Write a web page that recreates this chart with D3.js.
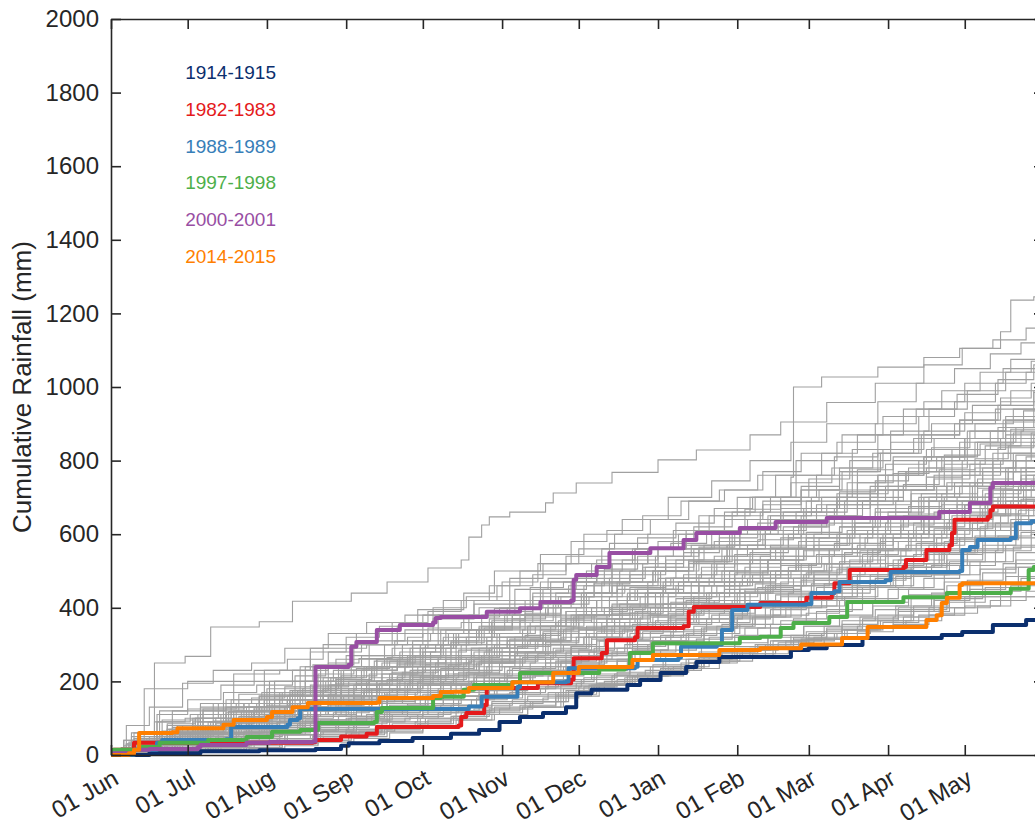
<!DOCTYPE html>
<html>
<head>
<meta charset="utf-8">
<script src="https://cdn.jsdelivr.net/npm/d3@7"></script>
<style>
  body { margin: 0; background: #fff; }
  svg { display: block; }
  text { font-family: "Liberation Sans", Arial, Helvetica, sans-serif; }
</style>
</head>
<body>
<svg id="chart" width="1035" height="827"></svg>
<script>
// Season runs 1 June to 31 May; points are [day of season, cumulative mm]
const seasonStart = new Date(Date.UTC(2014, 5, 1));
const seasonEnd = new Date(Date.UTC(2015, 5, 1));
const seasonLength = 365;
const yTickValues = [0, 200, 400, 600, 800, 1000, 1200, 1400, 1600, 1800, 2000];

const highlightNames = ["1914-1915", "1982-1983", "1988-1989", "1997-1998", "2000-2001", "2014-2015"];
const highlightColors = ["#0b2f6e", "#e41a1c", "#377eb8", "#4daf4a", "#984ea3", "#ff7f00"];

const season1914 = [[0,0],[15,5],[35,10],[58,13],[80,16],[90,25],[93,32],[105,38],[118,46],[133,58],[144,68],[152,90],[160,103],[169,114],[178,130],[182,168],[188,177],[202,190],[207,204],[215,223],[225,239],[229,253],[238,266],[266,285],[273,290],[280,299],[294,318],[325,326],[333,334],[345,353],[358,367]];
const season1982 = [[0,0],[1,14],[9,33],[79,35],[80,41],[90,50],[100,58],[104,76],[136,80],[137,103],[139,114],[146,136],[147,182],[167,195],[180,205],[181,263],[192,277],[194,312],[205,320],[206,345],[224,350],[226,389],[228,402],[254,413],[272,427],[282,440],[283,467],[289,503],[310,511],[311,530],[319,557],[328,570],[329,603],[330,639],[343,647],[344,665],[345,675]];
const season1988 = [[0,0],[9,14],[18,33],[20,41],[45,43],[47,76],[69,82],[70,95],[73,100],[74,125],[140,132],[145,158],[159,185],[160,198],[178,200],[179,236],[205,240],[206,258],[222,265],[223,294],[237,300],[239,340],[243,394],[249,408],[272,410],[274,440],[283,445],[285,470],[303,475],[305,497],[332,500],[333,557],[336,565],[339,584],[352,590],[354,630],[360,635]];
const season1997 = [[0,0],[1,14],[12,22],[19,33],[38,41],[53,49],[63,63],[74,68],[81,87],[103,90],[104,117],[106,128],[126,155],[129,158],[138,177],[142,190],[157,198],[160,223],[191,232],[201,239],[203,277],[212,304],[246,318],[254,321],[262,345],[267,359],[281,375],[288,416],[310,429],[327,440],[352,452],[359,503],[361,511]];
const season2000 = [[0,0],[1,5],[9,14],[15,16],[34,22],[35,27],[53,33],[62,35],[79,37],[80,239],[93,245],[94,294],[96,307],[104,340],[113,353],[126,360],[127,372],[129,375],[147,389],[160,399],[168,416],[180,420],[181,476],[182,489],[190,511],[195,549],[211,562],[224,584],[229,603],[246,617],[260,633],[280,644],[324,660],[336,685],[344,726],[345,739]];
const season2014 = [[0,0],[7,5],[9,14],[11,60],[24,62],[26,73],[44,82],[48,95],[61,103],[63,117],[71,130],[77,141],[104,143],[105,155],[126,160],[129,171],[134,172],[140,182],[157,198],[173,223],[183,239],[204,258],[212,272],[238,285],[254,290],[270,300],[286,318],[296,348],[319,367],[323,380],[325,413],[327,427],[332,462],[333,467]];
const highlightSeasons = [season1914, season1982, season1988, season1997, season2000, season2014];

// All other seasons of the record, as flat day,mm pairs
const otherSeasons = [
  [0,0, 7,35, 17,250, 29,268, 39,348, 58,362, 71,418, 94,440, 108,470, 124,508, 137,530, 140,592, 145,625, 148,647, 156,660, 170,685, 173,712, 182,739, 196,768, 214,802, 229,829, 250,870, 262,905, 280,958, 299,1010, 318,1060, 333,1105, 348,1150, 352,1236, 361,1245],
  [0,5, 12,20, 25,60, 40,92, 55,120, 70,165, 88,210, 100,240, 118,300, 132,330, 150,390, 165,430, 180,470, 196,520, 210,560, 225,610, 240,660, 252,700, 266,755, 267,1000, 278,1027, 300,1054, 318,1080, 332,1105, 345,1128, 358,1160],
  [0,0, 10,30, 20,95, 35,140, 48,200, 60,230, 78,280, 92,320, 105,350, 120,395, 138,440, 150,500, 168,545, 185,600, 200,640, 218,700, 235,745, 250,800, 266,850, 280,900, 300,960, 315,1010, 330,1050, 344,1090, 356,1120],
  [0,10, 6,80, 15,130, 28,195, 40,230, 55,250, 68,290, 85,330, 100,360, 115,380, 130,420, 148,460, 160,500, 178,540, 195,575, 210,600, 230,650, 245,700, 260,760, 278,820, 292,870, 310,940, 325,990, 340,1040, 352,1075, 362,1100],
  [0,0, 12,20, 26,50, 40,80, 58,110, 74,140, 90,170, 104,200, 118,240, 136,270, 152,320, 168,360, 182,400, 198,450, 215,500, 230,560, 246,620, 262,700, 276,760, 290,830, 305,880, 320,940, 335,990, 350,1040, 360,1070],
  [0,0, 9,45, 22,70, 36,120, 50,165, 62,200, 79,245, 95,300, 110,330, 126,370, 142,410, 158,450, 171,480, 188,520, 204,560, 220,610, 234,650, 250,700, 268,760, 283,810, 300,870, 316,920, 330,960, 346,1010, 358,1040],
  [0,0, 5,25, 19,60, 33,100, 47,130, 61,180, 76,240, 92,270, 107,300, 122,330, 140,380, 156,420, 172,470, 190,530, 205,560, 222,600, 240,650, 255,690, 270,730, 285,780, 302,830, 318,880, 334,930, 348,970, 360,1010],
  [0,5, 11,30, 24,55, 39,90, 52,140, 66,170, 84,200, 98,230, 112,260, 129,300, 145,350, 160,380, 176,420, 192,470, 208,520, 224,570, 238,610, 254,660, 270,720, 286,770, 300,820, 316,870, 332,910, 347,950, 361,990],
  [0,0, 8,15, 20,40, 32,75, 45,110, 60,150, 73,175, 88,205, 102,240, 118,270, 133,310, 149,360, 165,400, 180,430, 196,470, 213,510, 228,560, 243,600, 258,650, 274,700, 290,760, 306,810, 322,860, 338,900, 353,940, 363,970],
  [0,0, 14,45, 27,70, 41,85, 56,130, 70,160, 86,190, 101,220, 115,250, 131,290, 147,320, 163,350, 178,390, 195,430, 210,470, 226,520, 241,570, 256,610, 272,660, 288,710, 304,760, 318,810, 334,860, 349,910, 362,950],
  [0,0, 18,110, 30,125, 52,140, 64,200, 90,215, 104,240, 121,300, 139,320, 150,345, 174,380, 186,440, 201,460, 219,480, 236,540, 249,570, 263,620, 280,680, 297,720, 311,770, 329,830, 344,880, 357,935],
  [0,0, 10,40, 22,70, 35,130, 47,150, 60,200, 74,240, 88,260, 101,310, 115,340, 128,380, 142,420, 156,480, 169,520, 183,560, 197,600, 211,640, 226,690, 240,720, 255,770, 270,820, 286,870, 302,920, 318,960, 334,1010, 349,1050, 362,1090],
  [0,0, 6,30, 18,90, 31,110, 44,170, 57,190, 71,230, 85,280, 98,300, 112,350, 126,400, 139,430, 153,470, 167,520, 180,580, 194,610, 208,650, 223,690, 238,720, 253,760, 268,800, 284,850, 299,900, 315,940, 331,980, 347,1020, 361,1060],
  [0,0, 13,20, 25,60, 38,75, 51,120, 64,160, 78,190, 91,230, 104,260, 118,310, 131,340, 145,380, 158,410, 172,450, 186,500, 200,530, 214,580, 228,620, 243,660, 258,700, 273,750, 289,800, 305,850, 321,900, 337,950, 352,990, 363,1030],
  [0,0, 9,25, 21,50, 34,90, 47,130, 60,150, 74,200, 87,230, 101,260, 114,300, 128,340, 141,360, 155,400, 169,450, 182,480, 196,520, 210,560, 225,600, 240,640, 255,680, 270,720, 285,770, 301,820, 317,870, 332,910, 348,960, 362,1000],
  [0,0, 8,60, 19,120, 30,150, 43,190, 56,230, 69,260, 83,300, 96,330, 110,360, 124,390, 137,420, 151,460, 165,490, 178,520, 192,560, 206,590, 221,630, 236,670, 251,700, 266,740, 282,780, 298,820, 314,860, 330,900, 346,940, 361,985],
  [0,0, 12,15, 24,40, 37,70, 50,100, 63,140, 76,160, 90,200, 103,240, 117,270, 130,310, 144,350, 157,380, 171,420, 185,460, 199,500, 213,540, 227,570, 242,610, 257,650, 272,690, 288,740, 303,790, 319,830, 335,880, 350,920, 363,960],
  [0,0, 7,10, 20,45, 33,60, 46,110, 59,130, 72,170, 86,210, 99,240, 113,280, 127,300, 140,340, 154,380, 168,410, 181,440, 195,480, 209,510, 224,550, 238,590, 253,630, 268,660, 284,710, 300,760, 316,800, 332,850, 347,890, 361,940],
  [0,0, 15,50, 28,80, 41,100, 54,140, 67,170, 80,210, 94,240, 107,270, 121,290, 134,330, 148,370, 162,400, 175,430, 189,470, 203,500, 217,530, 232,570, 246,600, 261,640, 276,680, 292,720, 308,770, 323,810, 339,850, 354,890, 364,925],
  [0,0, 10,35, 23,60, 36,80, 49,120, 62,140, 75,180, 89,200, 102,240, 116,270, 129,300, 143,340, 157,370, 170,400, 184,440, 198,470, 212,500, 226,530, 241,570, 256,600, 271,640, 287,690, 303,730, 319,780, 335,830, 350,870, 363,910],
  [0,0, 5,20, 17,40, 30,70, 43,90, 56,120, 69,150, 83,180, 96,200, 110,240, 123,260, 137,300, 151,330, 164,360, 178,390, 192,420, 206,450, 220,480, 235,520, 250,550, 265,590, 281,630, 297,680, 313,720, 329,770, 345,820, 360,875],
  [0,0, 14,30, 27,55, 40,70, 53,100, 66,130, 79,150, 93,180, 106,220, 120,240, 133,270, 147,310, 161,340, 174,360, 188,400, 202,430, 216,460, 230,490, 245,530, 260,560, 275,600, 291,640, 307,690, 323,730, 338,780, 353,820, 364,860],
  [0,0, 8,10, 21,30, 34,60, 47,80, 60,110, 73,140, 87,160, 100,200, 114,220, 127,250, 141,290, 155,320, 168,350, 182,380, 196,410, 210,440, 224,470, 239,500, 254,540, 269,580, 285,620, 301,670, 317,710, 333,760, 348,800, 362,845],
  [0,0, 11,20, 24,45, 37,60, 50,95, 63,120, 77,140, 90,175, 104,200, 117,230, 131,260, 144,290, 158,320, 172,350, 185,380, 199,410, 213,440, 227,470, 242,500, 257,530, 272,570, 288,610, 304,650, 320,700, 336,740, 351,780, 363,820],
  [0,0, 16,40, 29,60, 42,80, 55,100, 68,130, 82,150, 95,180, 109,200, 122,230, 136,260, 149,290, 163,310, 177,340, 190,370, 204,400, 218,430, 232,460, 247,490, 262,520, 277,560, 293,600, 309,640, 325,680, 341,720, 356,760, 364,790],
  [0,0, 9,20, 22,40, 35,55, 48,80, 61,110, 74,130, 88,150, 101,180, 115,200, 128,230, 142,260, 156,280, 169,310, 183,340, 197,370, 211,400, 225,420, 240,450, 255,480, 270,520, 286,560, 302,600, 318,640, 334,680, 349,720, 362,760],
  [0,0, 9,30, 21,42, 34,110, 46,118, 58,160, 70,175, 85,250, 97,262, 110,290, 124,345, 137,360, 150,398, 164,455, 177,470, 190,500, 205,560, 219,575, 233,610, 248,668, 262,690, 277,720, 292,775, 306,800, 321,835, 336,880, 350,905, 363,930],
  [0,0, 12,8, 25,20, 38,45, 52,60, 66,95, 80,110, 93,150, 107,170, 121,215, 134,240, 148,290, 161,310, 175,365, 188,390, 202,440, 216,470, 229,525, 243,560, 256,610, 270,640, 284,690, 297,730, 311,770, 325,810, 338,850, 352,885, 364,915],
  [0,0, 7,20, 19,55, 31,62, 44,110, 57,140, 69,160, 83,210, 96,235, 109,255, 123,300, 136,330, 149,365, 162,385, 176,430, 189,465, 203,490, 217,540, 230,565, 244,610, 258,640, 271,670, 285,715, 299,745, 312,780, 326,815, 340,845, 353,875, 364,900],
  [0,5, 10,40, 22,85, 33,100, 45,150, 59,170, 72,215, 84,240, 98,270, 111,310, 125,330, 138,375, 152,400, 165,440, 179,460, 193,505, 206,540, 220,560, 235,600, 249,640, 263,660, 278,700, 292,740, 306,765, 320,800, 334,830, 348,860, 362,890],
  [0,0, 14,25, 27,65, 40,80, 53,130, 66,150, 79,185, 93,200, 106,250, 119,270, 133,305, 146,345, 160,365, 173,410, 187,430, 200,470, 214,500, 228,525, 242,570, 255,600, 269,625, 283,670, 297,700, 310,735, 324,775, 338,805, 351,840, 363,880],
  [0,0, 8,5, 20,15, 33,30, 47,60, 61,70, 75,110, 88,130, 102,170, 116,190, 129,235, 142,260, 156,300, 169,330, 183,380, 196,405, 210,450, 224,490, 237,520, 251,560, 265,600, 278,640, 292,680, 306,720, 319,755, 333,800, 347,835, 361,870],
  [0,0, 11,60, 24,75, 36,125, 49,140, 62,165, 76,200, 89,240, 103,255, 117,290, 130,320, 144,345, 157,380, 171,400, 185,440, 198,460, 212,500, 226,525, 239,560, 253,585, 267,620, 281,650, 294,690, 308,720, 322,750, 336,790, 349,820, 362,862],
  [0,0, 6,12, 18,30, 30,70, 43,85, 56,120, 69,135, 82,175, 96,195, 109,220, 122,265, 136,285, 149,320, 163,350, 176,375, 190,420, 203,440, 217,480, 231,500, 244,545, 258,570, 272,605, 286,640, 299,670, 313,710, 327,740, 341,780, 354,815, 364,855],
  [0,0, 13,10, 26,20, 40,40, 53,55, 67,80, 81,95, 94,130, 108,150, 121,190, 135,210, 148,250, 162,280, 176,320, 189,345, 203,385, 216,410, 230,460, 244,490, 257,530, 271,560, 284,600, 298,640, 312,675, 325,710, 339,750, 353,800, 364,848],
  [0,0, 9,30, 21,40, 35,75, 48,95, 61,110, 74,150, 88,170, 101,200, 114,225, 128,250, 141,290, 155,310, 168,340, 181,375, 195,395, 209,440, 222,460, 236,500, 250,530, 263,560, 277,590, 291,630, 304,660, 318,700, 332,730, 345,770, 358,810, 364,840],
  [0,0, 5,40, 17,90, 29,100, 42,140, 55,155, 68,185, 81,220, 95,230, 108,265, 122,290, 135,320, 149,340, 162,375, 176,400, 190,420, 203,455, 217,480, 231,510, 244,530, 258,565, 272,590, 285,620, 299,660, 313,690, 327,730, 341,770, 354,800, 364,832],
  [0,0, 15,20, 28,60, 41,70, 54,100, 68,130, 81,150, 95,190, 108,205, 122,240, 135,265, 148,290, 162,325, 176,345, 189,380, 203,405, 216,440, 230,470, 244,495, 257,530, 271,555, 285,590, 298,620, 312,655, 326,690, 339,725, 353,770, 364,825],
  [0,0, 10,5, 23,15, 37,25, 51,50, 64,60, 78,90, 92,100, 105,140, 119,160, 133,200, 146,220, 160,260, 173,290, 187,330, 201,360, 214,400, 228,430, 242,470, 255,500, 269,540, 283,575, 296,610, 310,650, 324,690, 337,730, 351,770, 363,818],
  [0,0, 8,50, 20,65, 32,100, 45,115, 58,150, 71,175, 85,190, 98,230, 112,245, 125,280, 139,300, 152,330, 166,350, 180,380, 193,400, 207,430, 221,460, 234,480, 248,510, 262,540, 275,570, 289,600, 303,630, 317,670, 331,700, 345,740, 358,780, 364,810],
  [0,0, 12,15, 25,50, 38,60, 51,95, 65,110, 78,140, 91,160, 105,195, 118,210, 132,245, 145,270, 159,295, 172,330, 186,350, 199,385, 213,410, 227,440, 240,470, 254,500, 268,520, 281,560, 295,590, 309,625, 322,660, 336,700, 350,740, 363,803],
  [0,0, 7,10, 19,40, 32,50, 46,80, 59,105, 72,120, 86,160, 99,175, 113,205, 126,230, 140,255, 153,290, 167,310, 180,345, 194,370, 208,400, 221,425, 235,460, 249,480, 262,515, 276,545, 290,575, 303,610, 317,640, 331,680, 345,720, 358,760, 364,796],
  [0,0, 14,5, 27,10, 41,30, 54,45, 68,55, 82,80, 96,95, 109,130, 123,150, 137,190, 150,210, 164,250, 178,280, 191,310, 205,340, 219,380, 232,410, 246,450, 260,480, 273,520, 287,550, 301,590, 314,630, 328,670, 342,710, 356,750, 364,790],
  [0,0, 11,45, 23,70, 35,80, 48,120, 61,135, 74,160, 88,195, 101,210, 115,240, 128,265, 142,280, 156,315, 169,335, 183,360, 196,385, 210,410, 224,430, 237,460, 251,490, 265,510, 278,540, 292,570, 306,600, 320,640, 334,680, 348,720, 361,760, 364,784],
  [0,0, 9,20, 22,35, 35,65, 49,75, 62,110, 75,125, 89,150, 102,180, 116,195, 129,230, 143,250, 156,280, 170,305, 183,330, 197,360, 211,380, 224,415, 238,440, 252,465, 265,500, 279,520, 293,555, 306,590, 320,620, 334,660, 347,700, 360,745, 364,778],
  [0,0, 16,30, 29,40, 42,75, 55,90, 68,105, 82,140, 95,155, 109,180, 122,210, 136,225, 149,260, 163,280, 177,300, 190,335, 204,355, 218,385, 231,410, 245,440, 259,460, 272,495, 286,520, 300,555, 313,590, 327,630, 341,670, 355,720, 364,772],
  [0,5, 6,30, 18,60, 30,70, 43,110, 56,125, 69,150, 83,180, 96,190, 110,225, 123,245, 137,265, 151,300, 164,315, 178,345, 192,360, 205,390, 219,415, 233,440, 246,470, 260,490, 274,520, 287,550, 301,580, 315,620, 329,650, 343,690, 357,730, 364,766],
  [0,0, 12,5, 25,15, 39,25, 52,40, 66,55, 80,70, 93,100, 107,115, 121,150, 134,170, 148,210, 162,230, 175,265, 189,290, 203,330, 216,355, 230,390, 244,420, 257,460, 271,490, 285,525, 298,560, 312,600, 326,640, 340,680, 353,720, 364,760],
  [0,0, 10,25, 23,40, 36,70, 50,80, 63,105, 77,130, 90,150, 104,175, 117,200, 131,220, 144,250, 158,270, 171,300, 185,320, 199,350, 212,375, 226,400, 240,430, 253,455, 267,480, 281,510, 294,545, 308,580, 322,615, 336,655, 350,700, 363,754],
  [0,0, 13,15, 26,45, 39,55, 53,85, 66,100, 80,120, 93,150, 107,165, 120,195, 134,215, 147,240, 161,265, 174,285, 188,315, 202,340, 215,360, 229,395, 243,420, 256,445, 270,475, 284,505, 297,540, 311,570, 325,610, 339,650, 352,690, 364,748],
  [0,0, 8,40, 20,60, 32,90, 45,100, 58,130, 71,150, 85,165, 98,200, 112,215, 125,240, 139,265, 152,280, 166,310, 180,330, 193,350, 207,375, 221,395, 234,420, 248,445, 262,470, 275,500, 289,530, 303,560, 317,600, 331,640, 345,680, 358,720, 364,742],
  [0,0, 15,10, 28,15, 42,25, 55,40, 69,55, 83,65, 96,95, 110,110, 124,140, 137,160, 151,195, 165,215, 178,250, 192,275, 206,310, 219,335, 233,370, 247,400, 260,435, 274,465, 288,500, 301,540, 315,575, 329,615, 343,655, 356,695, 364,736],
  [0,0, 6,15, 19,30, 31,55, 44,70, 58,95, 71,110, 85,135, 98,160, 112,175, 125,205, 139,225, 152,250, 166,270, 180,295, 193,320, 207,345, 221,370, 234,395, 248,420, 262,445, 275,475, 289,505, 303,540, 317,575, 331,615, 345,655, 358,695, 364,730],
  [0,0, 11,30, 24,70, 37,80, 50,105, 63,120, 77,150, 90,160, 104,190, 117,215, 131,230, 144,255, 158,275, 172,300, 185,320, 199,345, 213,365, 226,385, 240,410, 254,440, 267,460, 281,490, 295,520, 309,555, 323,590, 337,630, 351,670, 364,724],
  [0,0, 9,10, 21,35, 34,45, 48,70, 61,85, 75,110, 88,130, 102,150, 115,175, 129,195, 142,220, 156,240, 170,265, 183,285, 197,315, 211,335, 224,360, 238,385, 252,410, 265,440, 279,465, 293,500, 306,530, 320,570, 334,610, 348,650, 361,690, 364,718],
  [0,0, 13,5, 27,10, 40,20, 54,35, 68,45, 81,65, 95,80, 109,105, 122,125, 136,150, 150,175, 163,200, 177,230, 191,255, 204,285, 218,310, 232,345, 245,375, 259,405, 273,440, 286,470, 300,505, 314,545, 328,585, 342,625, 355,665, 364,712],
  [0,0, 12,20, 25,30, 38,55, 52,65, 65,90, 79,105, 92,130, 106,145, 119,170, 133,190, 146,210, 160,235, 174,255, 187,280, 201,300, 215,325, 228,350, 242,375, 256,400, 269,430, 283,455, 297,490, 310,520, 324,555, 338,595, 352,640, 364,705],
  [0,0, 7,25, 19,55, 32,65, 45,95, 58,115, 72,130, 85,155, 99,170, 112,195, 126,215, 140,230, 153,255, 167,275, 180,295, 194,315, 208,335, 221,355, 235,380, 249,405, 262,430, 276,455, 290,485, 304,515, 318,550, 332,590, 346,630, 359,670, 364,698],
  [0,0, 14,15, 27,40, 41,50, 54,75, 68,90, 81,110, 95,125, 108,150, 122,165, 135,190, 149,210, 163,230, 176,255, 190,275, 204,295, 217,320, 231,345, 245,370, 258,395, 272,420, 286,450, 299,480, 313,510, 327,545, 341,585, 355,630, 364,690],
  [0,0, 10,5, 24,10, 38,20, 51,30, 65,40, 79,55, 92,70, 106,90, 120,110, 133,135, 147,155, 161,180, 174,205, 188,230, 202,260, 215,285, 229,315, 243,345, 256,375, 270,405, 284,440, 297,475, 311,510, 325,550, 339,590, 352,630, 364,682],
  [0,0, 8,15, 20,25, 33,50, 47,60, 60,80, 74,100, 87,115, 101,140, 114,155, 128,175, 141,200, 155,215, 169,240, 182,260, 196,280, 210,300, 223,325, 237,350, 251,375, 264,400, 278,430, 292,460, 305,490, 319,520, 333,555, 347,595, 360,640, 364,674],
  [0,0, 11,35, 23,55, 36,70, 49,90, 62,105, 75,125, 89,140, 102,160, 116,180, 129,195, 143,215, 157,235, 170,250, 184,270, 198,290, 211,310, 225,330, 239,355, 252,375, 266,400, 280,425, 294,455, 307,485, 321,515, 335,550, 349,590, 362,630, 364,666],
  [0,0, 15,15, 28,30, 42,50, 55,60, 69,85, 82,95, 96,120, 109,135, 123,160, 136,175, 150,200, 164,220, 177,240, 191,260, 205,285, 218,305, 232,330, 246,355, 259,380, 273,405, 287,430, 300,460, 314,490, 328,525, 342,560, 356,605, 364,658],
  [0,0, 12,5, 26,10, 39,15, 53,25, 67,35, 80,50, 94,60, 108,80, 121,100, 135,120, 149,140, 162,165, 176,190, 190,215, 203,240, 217,270, 231,295, 244,325, 258,355, 272,385, 285,420, 299,455, 313,490, 327,530, 341,570, 354,610, 364,650],
  [0,0, 9,20, 22,30, 35,45, 49,55, 62,75, 76,90, 89,105, 103,125, 116,140, 130,160, 144,180, 157,195, 171,215, 185,235, 198,255, 212,275, 226,300, 239,320, 253,345, 267,370, 280,395, 294,425, 308,455, 322,490, 336,525, 350,570, 364,640],
  [0,0, 6,30, 18,45, 31,55, 44,80, 57,90, 71,110, 84,125, 98,145, 111,155, 125,175, 139,190, 152,210, 166,225, 180,245, 193,260, 207,280, 221,300, 234,320, 248,345, 262,365, 276,390, 290,420, 304,450, 318,480, 332,515, 346,555, 360,600, 364,630],
  [0,0, 13,10, 26,25, 40,40, 53,50, 67,65, 80,80, 94,100, 107,115, 121,130, 134,150, 148,165, 162,185, 175,200, 189,220, 203,240, 216,260, 230,280, 244,305, 257,325, 271,350, 285,375, 298,405, 312,435, 326,470, 340,505, 354,550, 364,620],
  [0,0, 11,5, 25,10, 39,15, 52,20, 66,30, 80,40, 93,55, 107,70, 121,85, 134,105, 148,125, 162,145, 175,170, 189,190, 203,215, 216,240, 230,265, 244,295, 257,320, 271,350, 285,380, 298,415, 312,450, 326,490, 340,525, 353,565, 364,610],
  [0,0, 8,10, 21,25, 34,35, 48,45, 61,60, 75,75, 88,90, 102,105, 116,120, 129,135, 143,155, 156,170, 170,185, 184,205, 197,220, 211,240, 225,260, 238,280, 252,300, 266,325, 279,350, 293,375, 307,405, 321,440, 335,475, 349,520, 362,575, 364,600],
  [0,0, 10,25, 23,40, 36,50, 49,65, 62,75, 76,95, 89,105, 103,120, 116,135, 130,150, 144,165, 157,180, 171,195, 185,210, 198,225, 212,245, 226,260, 239,280, 253,300, 267,320, 280,345, 294,370, 308,400, 322,430, 336,470, 350,510, 363,560, 364,590],
  [0,0, 14,10, 27,20, 41,30, 54,45, 68,55, 81,70, 95,85, 108,100, 122,115, 136,130, 149,145, 163,160, 177,180, 190,195, 204,215, 218,230, 231,250, 245,270, 259,290, 272,315, 286,340, 300,365, 313,395, 327,425, 341,465, 355,510, 364,578],
  [0,0, 12,5, 26,8, 40,15, 53,20, 67,30, 81,40, 94,50, 108,65, 122,80, 135,95, 149,110, 163,130, 176,165, 190,190, 204,215, 217,235, 231,260, 245,285, 258,310, 272,335, 286,365, 299,395, 313,425, 327,460, 341,495, 354,530, 364,566],
  [0,0, 9,15, 22,20, 35,30, 49,40, 62,55, 76,65, 89,80, 103,95, 117,105, 130,120, 144,135, 157,150, 171,170, 185,185, 198,205, 212,225, 226,250, 239,275, 253,295, 267,315, 280,340, 294,365, 308,390, 322,420, 336,450, 350,485, 363,525, 364,554],
  [0,0, 7,20, 20,35, 33,45, 46,60, 59,70, 73,85, 86,95, 100,110, 114,125, 127,135, 141,150, 155,165, 168,180, 182,195, 196,215, 209,230, 223,250, 237,270, 250,290, 264,310, 278,330, 292,350, 306,375, 320,400, 334,430, 348,465, 362,505, 364,540],
  [0,0, 15,10, 28,15, 42,25, 55,35, 69,45, 82,60, 96,70, 110,85, 123,100, 137,115, 150,130, 164,145, 178,175, 191,195, 205,215, 219,235, 232,255, 246,275, 260,295, 273,315, 287,340, 301,365, 314,390, 328,415, 342,445, 356,480, 364,528],
  [0,0, 13,3, 27,8, 40,12, 54,18, 68,25, 81,35, 95,45, 109,60, 122,75, 136,95, 150,110, 163,130, 177,160, 191,190, 204,215, 218,240, 232,265, 245,290, 259,310, 273,330, 286,355, 300,380, 314,405, 328,430, 342,455, 355,485, 364,515],
  [0,0, 11,10, 24,15, 38,25, 51,35, 65,45, 78,55, 92,65, 106,80, 119,90, 133,105, 146,120, 160,135, 174,170, 187,190, 201,210, 215,230, 228,250, 242,270, 256,290, 269,310, 283,330, 297,350, 310,375, 324,400, 338,430, 352,460, 364,500],
  [0,0, 8,15, 21,25, 34,35, 47,45, 61,55, 74,65, 88,75, 101,90, 115,100, 128,115, 142,125, 156,140, 169,155, 183,185, 197,200, 210,215, 224,235, 238,255, 251,275, 265,295, 279,315, 292,335, 306,355, 320,380, 334,405, 348,430, 362,460, 364,485],
  [0,0, 16,5, 29,15, 43,20, 56,30, 70,40, 83,50, 97,65, 111,80, 124,95, 138,110, 152,125, 165,145, 179,175, 193,200, 206,220, 220,240, 234,265, 247,285, 261,305, 275,320, 288,340, 302,360, 316,380, 330,400, 344,420, 358,445, 364,470],
  [0,0, 10,5, 24,10, 38,20, 51,30, 65,40, 79,50, 92,60, 106,75, 120,85, 133,100, 147,115, 161,130, 174,160, 188,190, 202,215, 215,235, 229,260, 243,285, 256,300, 270,315, 284,330, 297,345, 311,365, 325,385, 339,405, 352,430, 364,455],
  [0,0, 20,15, 24,120, 45,130, 60,150, 83,160, 90,230, 112,250, 128,260, 135,330, 160,350, 178,370, 185,420, 205,450, 222,470, 240,540, 258,560, 270,600, 290,640, 300,720, 322,760, 340,800, 352,850, 362,880],
  [0,0, 10,30, 35,50, 50,100, 72,110, 80,170, 100,190, 120,200, 125,270, 150,300, 170,310, 176,370, 200,400, 215,440, 230,460, 250,520, 262,560, 285,600, 300,640, 316,700, 330,740, 345,800, 360,850],
  [0,0, 5,40, 28,60, 40,70, 65,90, 70,150, 95,170, 110,180, 118,230, 140,260, 160,270, 170,330, 192,350, 210,380, 218,440, 240,470, 260,500, 268,560, 290,600, 305,640, 320,690, 338,740, 350,780, 363,820],
  [0,0, 15,20, 22,80, 50,90, 62,110, 90,130, 98,180, 122,190, 140,220, 146,280, 170,300, 188,320, 194,380, 215,400, 236,420, 244,480, 266,500, 282,540, 300,600, 320,640, 326,700, 344,740, 356,780, 364,800],
  [0,0, 12,10, 30,30, 38,90, 60,100, 78,110, 85,160, 108,170, 130,200, 138,250, 158,260, 180,290, 186,340, 210,360, 228,390, 234,440, 256,460, 275,490, 281,560, 303,600, 318,640, 333,690, 348,730, 362,780],
  [0,0, 18,50, 36,60, 55,80, 62,130, 85,140, 104,160, 112,210, 134,220, 152,240, 158,300, 182,320, 200,340, 206,390, 228,410, 250,440, 258,500, 280,520, 296,560, 312,610, 328,640, 342,680, 355,730, 364,760],
  [0,10, 8,20, 25,35, 42,60, 48,110, 70,120, 92,135, 99,180, 120,195, 142,210, 148,270, 170,280, 190,310, 196,350, 218,370, 242,390, 248,450, 270,480, 288,510, 304,560, 322,600, 336,650, 350,690, 363,740],
  [0,0, 14,10, 32,25, 44,50, 66,60, 74,110, 96,120, 116,135, 124,190, 146,200, 164,230, 172,270, 194,290, 212,320, 220,360, 244,380, 262,410, 270,460, 292,490, 308,530, 326,580, 340,620, 354,670, 364,720],
  [0,0, 9,60, 26,80, 40,140, 58,160, 75,170, 82,240, 104,260, 122,280, 129,340, 150,360, 168,380, 174,440, 196,460, 214,480, 221,530, 245,560, 262,590, 270,650, 292,690, 310,730, 326,790, 342,840, 356,880, 364,900],
  [0,0, 16,5, 33,20, 52,30, 58,80, 82,90, 100,100, 108,150, 130,160, 148,180, 155,230, 178,240, 198,260, 204,310, 226,330, 244,350, 252,400, 274,430, 292,460, 310,520, 326,560, 342,610, 356,650, 364,690],
  [0,0, 11,30, 28,40, 46,50, 54,100, 76,105, 98,120, 106,170, 128,180, 146,200, 154,240, 176,250, 194,270, 202,320, 224,340, 242,360, 250,410, 272,430, 290,460, 306,510, 322,550, 338,590, 352,630, 363,670],
  [0,0, 4,20, 13,180, 30,200, 48,220, 66,230, 78,290, 100,300, 116,320, 122,380, 144,400, 162,420, 168,470, 190,490, 208,510, 214,560, 236,580, 254,610, 262,670, 284,700, 300,760, 318,810, 334,860, 350,910, 363,950]
];

// ---- layout ----
const margin = { left: 111, top: 19, right: 1044, bottom: 755 };
const svg = d3.select("#chart");
const ink = "#262626";

const x = d3.scaleUtc().domain([seasonStart, seasonEnd]).range([margin.left, margin.right]);
const y = d3.scaleLinear().domain([0, 2000]).range([margin.bottom, margin.top]);
const dayToDate = d => new Date(seasonStart.getTime() + d * 864e5);

// carry each season's last total to the end of the season
function toSteps(points) {
  const pts = points.slice();
  const last = pts[pts.length - 1];
  if (last[0] < seasonLength) pts.push([seasonLength, last[1]]);
  return pts;
}
function pairs(flat) {
  return d3.range(0, flat.length, 2).map(i => [flat[i], flat[i + 1]]);
}

const line = d3.line()
  .x(p => x(dayToDate(p[0])))
  .y(p => y(p[1]))
  .curve(d3.curveStepAfter);

// background seasons
svg.append("g")
  .selectAll("path")
  .data(otherSeasons.map(s => toSteps(pairs(s))))
  .join("path")
  .attr("d", line)
  .attr("fill", "none")
  .attr("stroke", "#a0a0a0")
  .attr("stroke-width", 1.1);

// highlighted seasons
svg.append("g")
  .selectAll("path")
  .data(highlightSeasons.map(toSteps))
  .join("path")
  .attr("d", line)
  .attr("fill", "none")
  .attr("stroke", (d, i) => highlightColors[i])
  .attr("stroke-width", 4)
  .attr("stroke-linejoin", "round");

// ---- axes (box with inward ticks) ----
const monthTicks = d3.utcMonth.range(seasonStart, seasonEnd);
const styleAxis = g => {
  g.select(".domain").attr("stroke", ink).attr("stroke-width", 1.6);
  g.selectAll(".tick line").attr("stroke", ink).attr("stroke-width", 1.6);
  g.selectAll("text").attr("fill", ink).attr("font-size", 24)
    .attr("font-family", '"Liberation Sans", Arial, Helvetica, sans-serif');
};

const xAxis = svg.append("g")
  .attr("transform", `translate(0,${margin.bottom})`)
  .call(d3.axisBottom(x).tickValues(monthTicks).tickSize(-10).tickSizeOuter(0)
    .tickFormat(d3.utcFormat("%d %b")))
  .call(styleAxis);
xAxis.selectAll(".tick text")
  .attr("y", 0).attr("x", 0).attr("dy", "0.72em")
  .attr("text-anchor", "end")
  .attr("transform", "translate(0,13) rotate(-30)");

svg.append("g")
  .attr("transform", `translate(0,${margin.top})`)
  .call(d3.axisTop(x).tickValues(monthTicks).tickSize(-10).tickSizeOuter(0).tickFormat(""))
  .call(styleAxis);

svg.append("g")
  .attr("transform", `translate(${margin.left},0)`)
  .call(d3.axisLeft(y).tickValues(yTickValues).tickSize(-10).tickSizeOuter(0)
    .tickPadding(12).tickFormat(d3.format("d")))
  .call(styleAxis);

svg.append("g")
  .attr("transform", `translate(${margin.right},0)`)
  .call(d3.axisRight(y).tickValues(yTickValues).tickSize(-10).tickSizeOuter(0).tickFormat(""))
  .call(styleAxis);

// y axis title
svg.append("text")
  .attr("transform", `translate(22,${(margin.top + margin.bottom) / 2}) rotate(-90)`)
  .attr("text-anchor", "middle")
  .attr("dominant-baseline", "central")
  .attr("fill", ink)
  .attr("font-size", 26)
  .text("Cumulative Rainfall (mm)");

// season labels, coloured like their lines
svg.append("g")
  .selectAll("text")
  .data(highlightNames)
  .join("text")
  .attr("x", x(dayToDate(29)))
  .attr("y", (d, i) => y(1855 - 100 * i))
  .attr("dy", "0.35em")
  .attr("font-size", 19)
  .attr("fill", (d, i) => highlightColors[i])
  .text(d => d);
</script>
</body>
</html>
